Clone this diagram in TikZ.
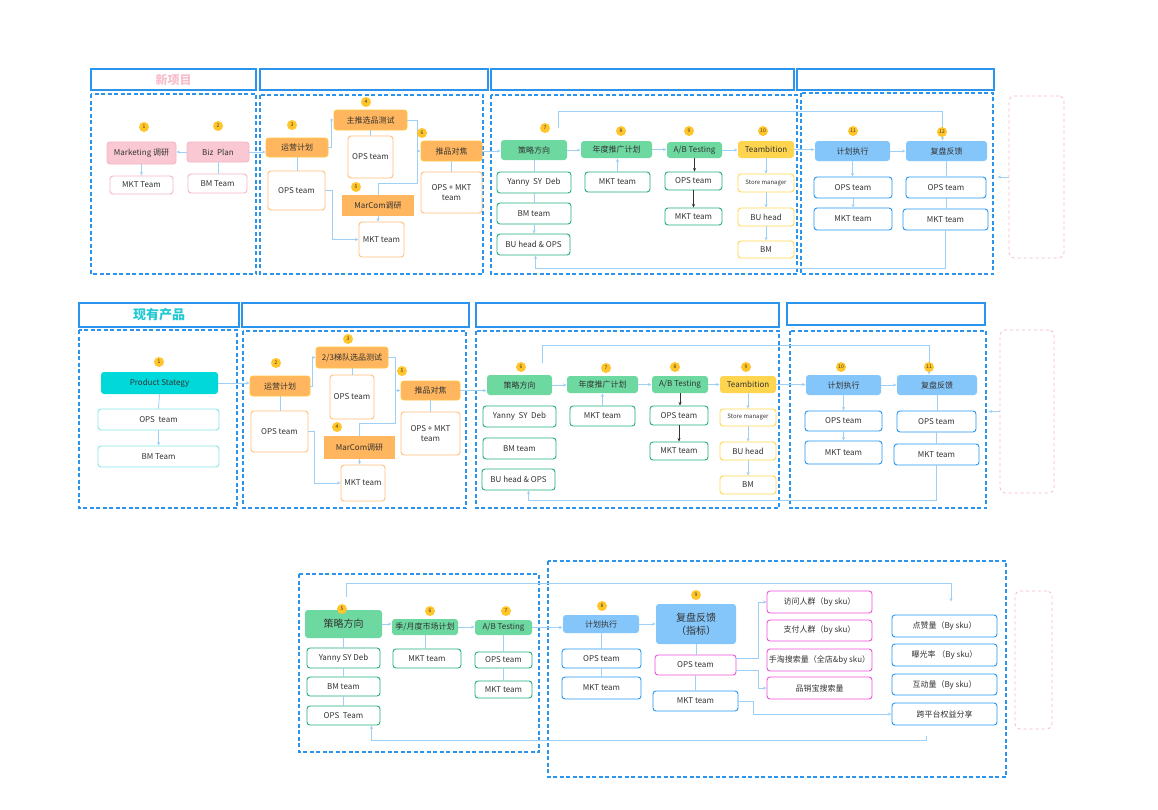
\documentclass[tikz,border=0pt]{standalone}
\usepackage{fontspec}
\setmainfont{Noto Sans CJK SC}
\usetikzlibrary{arrows.meta,calc}

\definecolor{cZone}{HTML}{2B95EE}
\definecolor{cLink}{HTML}{9ECFF6}
\definecolor{cInk}{HTML}{333333}
\definecolor{cPinkF}{HTML}{F9C8D2}
\definecolor{cPinkL}{HTML}{F5B5C4}
\definecolor{cPinkZ}{HTML}{F7B9C7}
\definecolor{cOrnF}{HTML}{FFB65E}
\definecolor{cOrnL}{HTML}{FFC548}
\definecolor{cOrnB}{HTML}{FFC078}
\definecolor{cGrnF}{HTML}{6DD8A0}
\definecolor{cGrnL}{HTML}{22AE78}
\definecolor{cYlwF}{HTML}{FFD54F}
\definecolor{cYlwL}{HTML}{FFD84E}
\definecolor{cBluF}{HTML}{85C6FA}
\definecolor{cBluL}{HTML}{2196F3}
\definecolor{cTealF}{HTML}{00D8DA}
\definecolor{cTealL}{HTML}{86E6E8}
\definecolor{cMag}{HTML}{EE52D8}
\definecolor{cBadge}{HTML}{FFC52A}
\definecolor{cHPink}{HTML}{F7BECB}
\definecolor{cHTeal}{HTML}{22C9D2}

\tikzset{
  base/.style={rounded corners=3pt, inner sep=0pt, align=center, text=cInk,
    line width=0.9pt, font=\fontsize{8}{9.5}\selectfont},
  pinkfill/.style={base, draw=cPinkL, fill=cPinkF},
  pinkbox/.style={base, draw=cPinkL, fill=white},
  ornfill/.style={base, draw=cOrnL, fill=cOrnF},
  ornbox/.style={base, draw=cOrnB, fill=white},
  ornsq/.style={base, rounded corners=0pt, fill=cOrnF},
  grnfill/.style={base, fill=cGrnF},
  grnbox/.style={base, draw=cGrnL, fill=white},
  ylwfill/.style={base, fill=cYlwF},
  ylwbox/.style={base, draw=cYlwL, fill=white},
  blufill/.style={base, fill=cBluF},
  blubox/.style={base, draw=cBluL, fill=white},
  tealfill/.style={base, fill=cTealF},
  tealbox/.style={base, draw=cTealL, fill=white},
  magbox/.style={base, draw=cMag, fill=white},
  hdr/.style={draw=cZone, line width=1.3pt, inner sep=0pt,
    font=\bfseries\fontsize{12}{14}\selectfont},
  zone/.style={draw=cZone, line width=1.2pt, dash pattern=on 4pt off 2.5pt},
  pinkzone/.style={draw=cPinkZ, line width=0.8pt, dashed, rounded corners=5pt},
  badge/.style={circle, fill=cBadge, inner sep=0pt, minimum size=10pt,
    text=cInk, font=\fontsize{5}{5}\selectfont},
  link/.style={draw=cLink, line width=0.8pt},
  arr/.style={link, -{Stealth[length=3.5pt, width=3pt]}},
  darr/.style={draw=cInk, line width=0.9pt, -{Stealth[length=3.5pt, width=3pt]}},
  small/.style={font=\fontsize{6}{7}\selectfont},
  big/.style={font=\fontsize{10}{13}\selectfont}
}

% node from its corners: style, name, x1, y1, x2, y2, text
\newcommand{\boxat}[7]{%
  \node[#1, minimum width={#5-#3}, minimum height={#6-#4}] (#2)
    at ({(#3+#5)/2},{(#4+#6)/2}) {#7};}

\begin{document}
\begin{tikzpicture}[x=1pt,y=-1pt]
\useasboundingbox[fill=white] (0,0) rectangle (1158,809);

% ---- new project row ----
\boxat{hdr, text=cHPink}{h1a}{91}{69}{256}{90}{新项目}
\boxat{hdr}{h1b}{260}{69}{488}{90}{}
\boxat{hdr}{h1c}{491}{69}{794}{90}{}
\boxat{hdr}{h1d}{797}{69}{994}{90}{}
\draw[zone] (91,94) rectangle (256,274);
\draw[zone] (260,95) rectangle (483,274);
\draw[zone] (491,95) rectangle (797,274);
\draw[zone] (801,93) rectangle (993,274);
\boxat{pinkzone}{pz1}{1009}{96}{1064}{258}{}

\boxat{pinkfill}{mr}{107}{142}{176}{164}{Marketing 调研}
\boxat{pinkbox}{mrt}{110}{176}{173}{194}{MKT Team}
\boxat{pinkfill}{bp}{187}{142}{249}{162}{Biz\ \ Plan}
\boxat{pinkbox}{bpt}{188}{174}{247}{193}{BM Team}

\boxat{ornfill}{yy1}{266}{138}{328}{157}{运营计划}
\boxat{ornbox}{yyt1}{268}{171}{325}{210}{OPS team}
\boxat{ornfill}{zt1}{334}{110}{407}{130}{主推选品测试}
\boxat{ornbox}{ztt1}{348}{136}{393}{178}{OPS team}
\boxat{ornsq}{mc1}{342}{195}{414}{216}{MarCom调研}
\boxat{ornbox}{mct1}{359}{222}{404}{257}{MKT team}
\boxat{ornfill}{tp1}{421}{141}{482}{161}{推品对焦}
\boxat{ornbox}{tpt1}{421}{172}{482}{213}{OPS + MKT\\team}

\boxat{grnfill}{cl1}{501}{140}{567}{160}{策略方向}
\boxat{grnbox}{cla1}{497}{172}{571}{193}{Yanny\ \ SY\ \ Deb}
\boxat{grnbox}{clb1}{497}{203}{571}{224}{BM team}
\boxat{grnbox}{clc1}{497}{234}{570}{255}{BU head \& OPS}
\boxat{grnfill}{nd1}{581}{141}{652}{158}{年度推广计划}
\boxat{grnbox}{ndt1}{585}{172}{650}{192}{MKT team}
\boxat{grnfill}{ab1}{667}{142}{722}{158}{A/B Testing}
\boxat{grnbox}{aba1}{665}{172}{722}{190}{OPS team}
\boxat{grnbox}{abb1}{665}{208}{722}{225}{MKT team}
\boxat{ylwfill}{tb1}{738}{141}{794}{158}{Teambition}
\boxat{ylwbox, small}{tba1}{738}{174}{794}{192}{Store manager}
\boxat{ylwbox}{tbb1}{738}{208}{794}{226}{BU head}
\boxat{ylwbox}{tbc1}{738}{241}{794}{258}{BM}

\boxat{blufill}{zx1}{815}{141}{890}{161}{计划执行}
\boxat{blubox}{zxa1}{814}{177}{892}{198}{OPS team}
\boxat{blubox}{zxb1}{814}{208}{892}{230}{MKT team}
\boxat{blufill}{fp1}{906}{141}{987}{161}{复盘反馈}
\boxat{blubox}{fpa1}{906}{177}{986}{198}{OPS team}
\boxat{blubox}{fpb1}{903}{209}{988}{230}{MKT team}

\draw[arr] (bp.west) -- (bp.west -| mr.east);
\draw[arr] (mr.south) -- (mrt.north);
\draw[link] (bp.south) -- (bp.south |- bpt.north);
\draw[arr] (bp.east) -- (bp.east -| yy1.west);
\draw[link] (yy1.south) -- (yy1.south |- yyt1.north);
\draw[arr] (yy1.east) -- ++(3,0) |- (zt1.west);
\draw[link] (zt1.south) -- (ztt1.north);
\draw[arr] (yyt1.east) -- ++(7,0) |- (mct1.west);
\draw[arr] (mc1.south) -- (mc1.south |- mct1.north);
\coordinate (j1) at (417,151);
\draw[link] (zt1.east) -| (j1);
\draw[link] (mc1.north) -- ++(0,-11) -| (j1);
\draw[arr] (j1) -- (tp1.west);
\draw[link] (tp1.south) -- (tpt1.north);
\draw[arr] (tp1.east) -- (tp1.east -| cl1.west);
\draw[link] (cl1.south) -- (cla1.north);
\draw[link] (cla1.south) -- (clb1.north);
\draw[arr] (clb1.south) -- (clb1.south |- clc1.north);
\draw[arr] (cl1.east) -- (cl1.east -| nd1.west);
\draw[arr] (ndt1.north) -- (ndt1.north |- nd1.south);
\draw[arr] (nd1.east) -- (nd1.east -| ab1.west);
\draw[darr] (ab1.south) -- (ab1.south |- aba1.north);
\draw[darr] (aba1.south) -- (aba1.south |- abb1.north);
\draw[arr] (ab1.east) -- (ab1.east -| tb1.west);
\draw[arr] (tb1.south) -- (tba1.north);
\draw[arr] (tba1.south) -- (tbb1.north);
\draw[arr] (tbb1.south) -- (tbc1.north);
\draw[arr] (tb1.east) -- (tb1.east -| zx1.west);
\draw[arr] (zx1.south) -- (zx1.south |- zxa1.north);
\draw[arr] (zxa1.south) -- (zxa1.south |- zxb1.north);
\draw[arr] (zx1.east) -- (fp1.west);
\draw[link] (fp1.south) -- (fp1.south |- fpa1.north);
\draw[link] (fpa1.south) -- (fpa1.south |- fpb1.north);
\draw[arr, shorten <=12pt] ($(cl1.north east)+(-9,0)$) -- ++(0,-28) -| ($(fp1.north)+(-4,0)$);
\draw[arr] (fpb1.south) -- ++(0,38) -| ($(clc1.south)+(2,0)$);
\draw[arr] (pz1.west) -- ++(-11,0);

\node[badge] (n1a) at (144,127) {1};
\node[badge] (n1b) at (218,126) {2};
\node[badge] (n1c) at (292,125) {3};
\node[badge] (n1d) at (366,102) {4};
\node[badge] (n1e) at (356,187) {5};
\node[badge] (n1f) at (422,133) {6};
\node[badge] (n1g) at (545,128) {7};
\node[badge] (n1h) at (621,131) {8};
\node[badge] (n1i) at (689,131) {9};
\node[badge] (n1j) at (763,131) {10};
\node[badge] (n1k) at (853,131) {11};
\node[badge] (n1l) at (942,132) {12};

% ---- existing product row ----
\boxat{hdr, text=cHTeal, font=\bfseries\fontsize{13}{15}\selectfont}{h2a}{79}{303}{239}{327}{现有产品}
\boxat{hdr}{h2b}{242}{303}{469}{327}{}
\boxat{hdr}{h2c}{476}{303}{779}{327}{}
\boxat{hdr}{h2d}{787}{303}{985}{325}{}
\draw[zone] (79,330) rectangle (237,508);
\draw[zone] (243,331) rectangle (466,508);
\draw[zone] (476,331) rectangle (779,508);
\draw[zone] (790,331) rectangle (986,508);
\boxat{pinkzone}{pz2}{1000}{330}{1054}{493}{}

\boxat{tealfill}{ps}{101}{372}{218}{394}{Product Stategy}
\boxat{tealbox}{psa}{98}{409}{219}{430}{OPS\ \ team}
\boxat{tealbox}{psb}{98}{446}{219}{467}{BM Team}

\boxat{ornfill}{yy2}{250}{376}{310}{396}{运营计划}
\boxat{ornbox}{yyt2}{251}{411}{308}{452}{OPS team}
\boxat{ornfill}{zt2}{316}{347}{388}{368}{2/3梯队选品测试}
\boxat{ornbox}{ztt2}{330}{375}{374}{419}{OPS team}
\boxat{ornsq}{mc2}{324}{436}{395}{459}{MarCom调研}
\boxat{ornbox}{mct2}{341}{465}{385}{501}{MKT team}
\boxat{ornfill}{tp2}{401}{381}{460}{400}{推品对焦}
\boxat{ornbox}{tpt2}{401}{412}{460}{455}{OPS + MKT\\team}

\boxat{grnfill}{cl2}{487}{375}{552}{395}{策略方向}
\boxat{grnbox}{cla2}{483}{406}{556}{427}{Yanny\ \ SY\ \ Deb}
\boxat{grnbox}{clb2}{483}{438}{556}{459}{BM team}
\boxat{grnbox}{clc2}{482}{469}{555}{490}{BU head \& OPS}
\boxat{grnfill}{nd2}{567}{376}{638}{393}{年度推广计划}
\boxat{grnbox}{ndt2}{570}{406}{635}{426}{MKT team}
\boxat{grnfill}{ab2}{652}{376}{708}{393}{A/B Testing}
\boxat{grnbox}{aba2}{650}{406}{708}{425}{OPS team}
\boxat{grnbox}{abb2}{650}{442}{708}{460}{MKT team}
\boxat{ylwfill}{tb2}{720}{376}{776}{393}{Teambition}
\boxat{ylwbox, small}{tba2}{720}{409}{776}{426}{Store manager}
\boxat{ylwbox}{tbb2}{720}{442}{776}{460}{BU head}
\boxat{ylwbox}{tbc2}{720}{476}{776}{494}{BM}

\boxat{blufill}{zx2}{806}{375}{881}{395}{计划执行}
\boxat{blubox}{zxa2}{805}{411}{882}{431}{OPS team}
\boxat{blubox}{zxb2}{805}{441}{882}{464}{MKT team}
\boxat{blufill}{fp2}{897}{375}{977}{395}{复盘反馈}
\boxat{blubox}{fpa2}{897}{411}{976}{432}{OPS team}
\boxat{blubox}{fpb2}{894}{444}{979}{465}{MKT team}

\draw[link] (ps.south) -- (psa.north);
\draw[arr] (psa.south) -- (psb.north);
\draw[arr] (ps.east) -- (ps.east -| yy2.west);
\draw[link] (yy2.south) -- (yy2.south |- yyt2.north);
\draw[arr] (yy2.east) -- ++(2,0) |- (zt2.west);
\draw[link] (zt2.south) -- (zt2.south |- ztt2.north);
\draw[arr] (yyt2.east) -- ++(6,0) |- (mct2.west);
\draw[arr] (mc2.south) -- (mc2.south |- mct2.north);
\coordinate (j2) at (395,390.5);
\draw[link] (zt2.east) -| (j2);
\draw[link] (mc2.north) -- ++(0,-12) -| (j2);
\draw[arr] (j2) -- (tp2.west);
\draw[link] (tp2.south) -- (tpt2.north);
\draw[arr] (tp2.east) -- (tp2.east -| cl2.west);
\draw[arr] (cl2.east) -- (cl2.east -| nd2.west);
\draw[arr] (ndt2.north) -- (ndt2.north |- nd2.south);
\draw[arr] (nd2.east) -- (nd2.east -| ab2.west);
\draw[darr] (ab2.south) -- (ab2.south |- aba2.north);
\draw[darr] (aba2.south) -- (aba2.south |- abb2.north);
\draw[arr] (ab2.east) -- (ab2.east -| tb2.west);
\draw[arr] (tb2.south) -- (tba2.north);
\draw[arr] (tba2.south) -- (tbb2.north);
\draw[arr] (tbb2.south) -- (tbc2.north);
\draw[arr] (tb2.east) -- (tb2.east -| zx2.west);
\draw[arr] (zx2.south) -- (zx2.south |- zxa2.north);
\draw[arr] (zxa2.south) -- (zxa2.south |- zxb2.north);
\draw[arr] (zx2.east) -- (fp2.west);
\draw[link] (fp2.south) -- (fp2.south |- fpa2.north);
\draw[link] (fpa2.south) -- (fpa2.south |- fpb2.north);
\draw[arr, shorten <=12pt] ($(cl2.north east)+(-10,0)$) -- ++(0,-29) -| ($(fp2.north)+(-8,0)$);
\draw[arr] (fpb2.south) -- ++(0,35) -| ($(clc2.south)+(10,0)$);
\draw[arr] (pz2.west) -- ++(-11,0);

\node[badge] (n2a) at (159,362) {1};
\node[badge] (n2b) at (276,363) {2};
\node[badge] (n2c) at (348,339) {3};
\node[badge] (n2d) at (337,427) {4};
\node[badge] (n2e) at (402,371) {5};
\node[badge] (n2f) at (521,367) {6};
\node[badge] (n2g) at (606,368) {7};
\node[badge] (n2h) at (675,367) {8};
\node[badge] (n2i) at (746,367) {9};
\node[badge] (n2j) at (841,367) {10};
\node[badge] (n2k) at (929,367) {11};

% ---- review row ----
\draw[zone] (299,574) rectangle (539,752);
\draw[zone] (548,561) rectangle (1006,777);
\boxat{pinkzone}{pz3}{1015}{591}{1052}{729}{}

\boxat{grnfill, big}{cl3}{305}{610}{382}{638}{策略方向}
\boxat{grnbox}{cla3}{307}{648}{380}{668}{Yanny SY Deb}
\boxat{grnbox}{clb3}{307}{677}{380}{696}{BM team}
\boxat{grnbox}{clc3}{307}{706}{380}{725}{OPS\ \ Team}
\boxat{grnfill}{nd3}{392}{619}{458}{635}{季/月度市场计划}
\boxat{grnbox}{ndt3}{393}{649}{461}{668}{MKT team}
\boxat{grnfill}{ab3}{475}{620}{532}{635}{A/B Testing}
\boxat{grnbox}{aba3}{475}{652}{532}{668}{OPS team}
\boxat{grnbox}{abb3}{475}{681}{532}{698}{MKT team}

\boxat{blufill}{zx3}{563}{615}{639}{633}{计划执行}
\boxat{blubox}{zxa3}{562}{649}{641}{668}{OPS team}
\boxat{blubox}{zxb3}{562}{677}{641}{699}{MKT team}
\boxat{blufill, big}{fp3}{656}{604}{736}{644}{复盘反馈\\（指标）}
\boxat{magbox}{fpa3}{655}{655}{736}{675}{OPS team}
\boxat{blubox}{fpb3}{653}{691}{738}{711}{MKT team}

\boxat{magbox}{m1}{767}{591}{872}{613}{访问人群（by sku）}
\boxat{magbox}{m2}{767}{620}{872}{641}{支付人群（by sku）}
\boxat{magbox}{m3}{767}{649}{872}{671}{手淘搜索量（全店\&by sku）}
\boxat{magbox}{m4}{767}{677}{872}{699}{品销宝搜索量}
\boxat{blubox}{k1}{892}{615}{997}{637}{点赞量（By sku）}
\boxat{blubox}{k2}{892}{644}{997}{666}{曝光率 （By sku）}
\boxat{blubox}{k3}{892}{674}{997}{695}{互动量（By sku）}
\boxat{blubox}{k4}{892}{703}{997}{725}{跨平台权益分享}

\draw[link] (cl3.south) -- (cla3.north);
\draw[link] (cla3.south) -- (clb3.north);
\draw[link] (clb3.south) -- (clc3.north);
\draw[arr] (cl3.east) -- (cl3.east -| nd3.west);
\draw[link] (nd3.south) -- (nd3.south |- ndt3.north);
\draw[arr] (nd3.east) -- (nd3.east -| ab3.west);
\draw[link] (ab3.south) -- (aba3.north);
\draw[link] (aba3.south) -- (abb3.north);
\draw[arr] (ab3.east) -- (ab3.east -| zx3.west);
\draw[link] (zx3.south) -- (zx3.south |- zxa3.north);
\draw[link] (zxa3.south) -- (zxa3.south |- zxb3.north);
\draw[arr] (zx3.east) -- (zx3.east -| fp3.west);
\draw[link] (fp3.south) -- (fp3.south |- fpa3.north);
\draw[link] (fpa3.south) -- (fpa3.south |- fpb3.north);
\draw[arr] ($(fpa3.east)+(0,-7)$) -- ++(22,0) |- (m1.west);
\draw[arr] ($(fpa3.east)+(0,5)$) -- ++(22,0) |- (m4.west);
\draw[arr] (fpb3.east) -- ++(15,0) |- (k4.west);
\draw[arr, shorten <=13pt, shorten >=13pt] ($(cl3.north)+(2.5,0)$) -- ++(0,-26) -| ($(k1.north)+(6.5,0)$);
\draw[arr, shorten <=11pt] ($(k4.south)+(-18,0)$) -- ++(0,15) -| ($(clc3.south)+(28,0)$);

\node[badge] (n3a) at (342,609) {5};
\node[badge] (n3b) at (430,611) {6};
\node[badge] (n3c) at (506,611) {7};
\node[badge] (n3d) at (602,606) {8};
\node[badge] (n3e) at (696,595) {9};
\end{tikzpicture}
\end{document}
